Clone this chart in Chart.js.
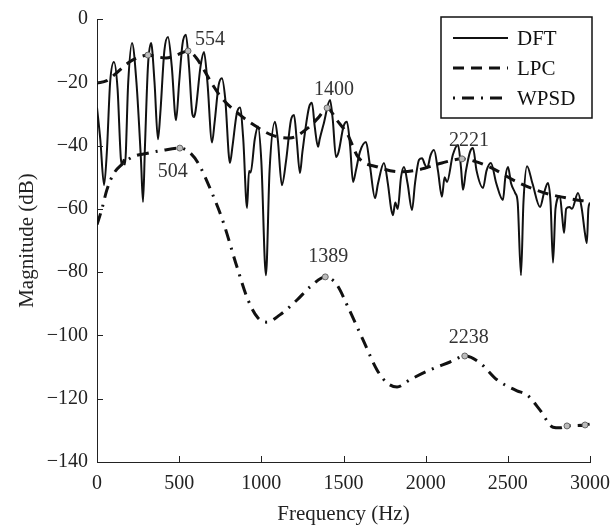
<!DOCTYPE html>
<html>
<head>
<meta charset="utf-8">
<script src="https://cdn.jsdelivr.net/npm/chart.js@4.4.1/dist/chart.umd.min.js"></script>
<style>
  html, body { margin: 0; padding: 0; background: #fff; }
  #wrap { width: 612px; height: 525px; }
</style>
</head>
<body>
<div id="wrap"><canvas id="chart" width="612" height="525"></canvas></div>
<script>
// spectrum values
const dftFreq = [0, 20, 43, 60, 80, 103, 125, 145, 152, 162, 170, 190, 213, 240, 268, 280, 292, 310, 329, 350, 371, 385, 410, 432, 455, 481, 500, 520, 541, 560, 580, 590, 600, 630, 651, 672, 700, 715, 740, 760, 780, 809, 825, 850, 870, 890, 913, 925, 935, 960, 980, 1000, 1028, 1050, 1083, 1100, 1125, 1150, 1180, 1199, 1215, 1235, 1250, 1290, 1308, 1325, 1345, 1355, 1380, 1418, 1435, 1454, 1470, 1500, 1521, 1540, 1558, 1575, 1600, 1637, 1660, 1692, 1710, 1746, 1770, 1790, 1801, 1815, 1830, 1850, 1868, 1890, 1917, 1935, 1960, 1978, 1995, 2010, 2030, 2051, 2075, 2099, 2115, 2130, 2165, 2197, 2215, 2227, 2245, 2270, 2288, 2310, 2349, 2370, 2397, 2430, 2470, 2485, 2501, 2520, 2545, 2560, 2580, 2595, 2617, 2650, 2696, 2720, 2744, 2760, 2775, 2790, 2817, 2830, 2842, 2855, 2875, 2890, 2927, 2950, 2970, 2981, 2990, 3000]
const dftMag = [-28, -38, -52.5, -42, -20, -13.6, -22, -44, -46, -44.5, -46, -20, -7.6, -20, -45, -57.8, -40, -15, -7.6, -20, -38, -30, -10, -5.7, -15, -32, -20, -8, -5, -15, -30, -31, -29, -15, -10.4, -20, -39, -33, -21, -18.7, -25, -45.5, -40, -30, -28, -38, -59.7, -48, -48.5, -38, -34, -45, -81, -48, -32.5, -38, -52.5, -45, -32, -30.3, -38, -48.7, -42, -28, -26.5, -34, -40.4, -38, -33, -25.6, -32, -43.6, -42, -34, -32.5, -40, -51.5, -48, -42, -38.9, -46, -56.6, -52, -45.5, -52, -60, -62, -58, -60, -50, -46.8, -52, -60.4, -52, -44.5, -44, -46, -47, -43, -41.4, -48, -56.2, -50, -51.5, -43, -39.8, -47, -54, -48, -42, -40.8, -48, -53.4, -48, -45.5, -52, -57.2, -50, -46.8, -52, -55, -58, -81, -58, -46.5, -52, -59.4, -55, -51.8, -58, -77, -60, -56, -62, -67.6, -60, -59.4, -60, -55, -60, -68, -70.8, -60, -58]

const lpcFreq = [0, 60, 120, 200, 260, 310, 370, 420, 480, 554, 600, 650, 700, 760, 870, 970, 1065, 1174, 1284, 1350, 1400, 1460, 1527, 1588, 1710, 1844, 1953, 2099, 2221, 2300, 2391, 2556, 2708, 2860, 3000]
const lpcMag = [-20.2, -19.5, -17, -13.5, -12, -11.4, -12, -12.3, -11.5, -10.1, -12, -16, -20.5, -25, -30.3, -34, -36.7, -37.6, -34.4, -31, -28.1, -32, -36.7, -43.6, -46.8, -48.3, -47.7, -45.5, -44.2, -45, -46.8, -51.5, -54.7, -56.6, -57.8]

const wpsdFreq = [0, 30, 60, 100, 150, 220, 300, 400, 504, 560, 615, 700, 767, 852, 919, 980, 1034, 1113, 1217, 1296, 1389, 1460, 1527, 1619, 1704, 1765, 1826, 1905, 2026, 2148, 2238, 2331, 2434, 2556, 2617, 2696, 2775, 2817, 2860, 2920, 2970, 3000]
const wpsdMag = [-65, -60, -54, -49, -46, -43.5, -42.5, -41.5, -40.8, -42, -45.5, -55, -64, -78.4, -88.8, -94.5, -95.8, -93.5, -88.8, -84.7, -81.5, -84, -91, -101.4, -110.9, -115, -116.3, -114, -110.9, -108.4, -106.5, -108.7, -114, -117.5, -118.8, -123.6, -129, -129.2, -128.6, -128.5, -128.3, -128]

// peak markers and their labels
const peakFreq = [310, 554, 1400, 2221, 504, 1389, 2238, 2860, 2970]
const peakMag = [-11.4, -10.1, -28.1, -44.2, -40.8, -81.5, -106.5, -128.6, -128.3]
const peakLabel = ['', '554', '1400', '2221', '504', '1389', '2238', '', '']

const xTicks = [0, 500, 1000, 1500, 2000, 2500, 3000]
const yTicks = [0, -20, -40, -60, -80, -100, -120, -140]

const labelOffset = [null, [22, -11], [7, -18], [7, -18], [-7, 24], [3, -20], [4, -18], null, null]
const serif = '"Liberation Serif", "Times New Roman", serif'

function pts(xs, ys) {
    return xs.map((v, i) => ({ x: v, y: ys[i] }))
}

const legendItems = [
    { text: 'DFT', dash: [], width: 2 },
    { text: 'LPC', dash: [11, 7], width: 3 },
    { text: 'WPSD', dash: [2, 7, 12, 7], width: 3 }
]

const overlay = {
    id: 'overlay',
    afterDatasetsDraw(chart) {
        const { ctx, chartArea: a, scales: { x, y } } = chart
        ctx.save()

        // inward tick marks
        ctx.strokeStyle = '#222'
        ctx.lineWidth = 1
        ctx.beginPath()
        xTicks.forEach(t => {
            const px = Math.round(x.getPixelForValue(t)) + 0.5
            ctx.moveTo(px, a.bottom)
            ctx.lineTo(px, a.bottom - 6)
        })
        yTicks.forEach(t => {
            const py = Math.round(y.getPixelForValue(t)) + 0.5
            ctx.moveTo(a.left, py)
            ctx.lineTo(a.left + 6, py)
        })
        ctx.stroke()

        // peak labels
        ctx.fillStyle = '#333'
        ctx.font = '20px ' + serif
        ctx.textAlign = 'center'
        ctx.textBaseline = 'middle'
        peakLabel.forEach((s, i) => {
            if (!s) return
            const px = x.getPixelForValue(peakFreq[i]) + labelOffset[i][0]
            const py = y.getPixelForValue(peakMag[i]) + labelOffset[i][1]
            ctx.fillText(s, px, py)
        })

        // legend box
        const bx = a.right - 149, by = a.top - 2, bw = 151, bh = 101
        ctx.fillStyle = '#fff'
        ctx.fillRect(bx, by, bw, bh)
        ctx.strokeStyle = '#111'
        ctx.lineWidth = 1.5
        ctx.strokeRect(bx, by, bw, bh)
        ctx.font = '21px ' + serif
        ctx.textAlign = 'left'
        legendItems.forEach((it, i) => {
            const ly = by + 21 + i * 30
            ctx.strokeStyle = '#111'
            ctx.lineWidth = it.width
            ctx.setLineDash(it.dash)
            ctx.beginPath()
            ctx.moveTo(bx + 12, ly)
            ctx.lineTo(bx + 67, ly)
            ctx.stroke()
            ctx.setLineDash([])
            ctx.fillStyle = '#111'
            ctx.fillText(it.text, bx + 76, ly + 1)
        })
        ctx.restore()
    }
}

const chart = new Chart(document.querySelector('#chart'), {
    type: 'line',
    data: {
        datasets: [
            {
                label: 'DFT',
                data: pts(dftFreq, dftMag),
                borderColor: '#111',
                borderWidth: 2,
                pointRadius: 0,
                cubicInterpolationMode: 'monotone',
                order: 3
            },
            {
                label: 'LPC',
                data: pts(lpcFreq, lpcMag),
                borderColor: '#111',
                borderWidth: 3,
                borderDash: [11, 7],
                pointRadius: 0,
                cubicInterpolationMode: 'monotone',
                order: 2
            },
            {
                label: 'WPSD',
                data: pts(wpsdFreq, wpsdMag),
                borderColor: '#111',
                borderWidth: 3,
                borderDash: [12, 7, 2, 7],
                pointRadius: 0,
                cubicInterpolationMode: 'monotone',
                order: 2
            },
            {
                type: 'scatter',
                label: 'peaks',
                data: pts(peakFreq, peakMag),
                pointRadius: 3,
                pointBackgroundColor: '#bbb',
                pointBorderColor: '#666',
                pointBorderWidth: 1,
                showLine: false,
                order: 1
            }
        ]
    },
    options: {
        responsive: false,
        animation: false,
        events: [],
        layout: { padding: { left: 0, top: 19, right: 22, bottom: 0 } },
        plugins: {
            legend: { display: false },
            tooltip: { enabled: false }
        },
        scales: {
            x: {
                type: 'linear',
                min: 0,
                max: 3000,
                afterBuildTicks: s => { s.ticks = xTicks.map(v => ({ value: v })) },
                afterFit: s => {
                    s.height = 63
                    s.paddingLeft = 0
                    s.paddingRight = 0
                },
                grid: { display: false, drawTicks: false },
                border: { display: true, color: '#222', width: 1 },
                ticks: {
                    padding: 10,
                    color: '#222',
                    font: { family: serif, size: 20 },
                    maxRotation: 0,
                    callback: v => String(v)
                },
                title: {
                    display: true,
                    text: 'Frequency (Hz)',
                    color: '#222',
                    font: { family: serif, size: 21, lineHeight: 1 },
                    padding: { top: 0, bottom: 0 }
                }
            },
            y: {
                min: -140,
                max: 0,
                afterBuildTicks: s => { s.ticks = yTicks.map(v => ({ value: v })) },
                afterFit: s => {
                    s.width = 97
                    s.paddingTop = 0
                    s.paddingBottom = 0
                },
                grid: { display: false, drawTicks: false },
                border: { display: true, color: '#222', width: 1 },
                ticks: {
                    padding: 9,
                    color: '#222',
                    font: { family: serif, size: 20 },
                    callback: v => v < 0 ? '\u2212' + Math.abs(v) : String(v)
                },
                title: {
                    display: true,
                    text: 'Magnitude (dB)',
                    color: '#222',
                    font: { family: serif, size: 21, lineHeight: 1 },
                    padding: { top: 17, bottom: 0 }
                }
            }
        }
    },
    plugins: [overlay]
})
</script>
</body>
</html>
